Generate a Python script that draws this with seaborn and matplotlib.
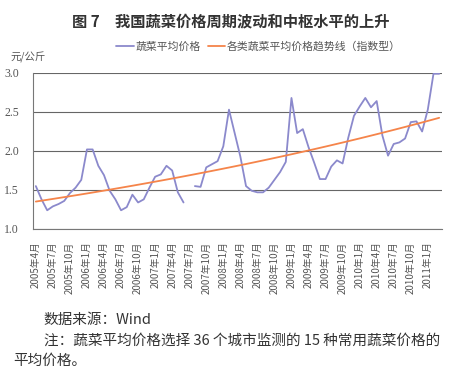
import numpy as np
import pandas as pd
import matplotlib
matplotlib.use("Agg")
import matplotlib.pyplot as plt
from matplotlib.lines import Line2D
import seaborn as sns

# monthly data, 2005-04 .. 2011-03
months = pd.period_range("2005-04", "2011-03", freq="M")
veg_price = [1.55, 1.38, 1.24, 1.29, 1.32, 1.36, 1.46, 1.53, 1.63, 2.02,
             2.02, 1.81, 1.69, 1.49, 1.38, 1.24, 1.28, 1.44, 1.34, 1.38,
             1.53, 1.67, 1.70, 1.81, 1.75, 1.47, 1.34, np.nan, 1.55, 1.54,
             1.79, 1.83, 1.87, 2.06, 2.53, 2.23, 1.93, 1.55, 1.49, 1.47,
             1.47, 1.53, 1.63, 1.73, 1.86, 2.68, 2.23, 2.28, 2.05, 1.85,
             1.64, 1.64, 1.80, 1.88, 1.84, 2.17, 2.45, 2.57, 2.68, 2.56,
             2.64, 2.20, 1.94, 2.09, 2.11, 2.16, 2.37, 2.38, 2.25, 2.53,
             2.99, 2.99]
tick_labels = [f"{p.year}年{p.month}月" for p in months[::3]]

df = pd.DataFrame({"idx": np.arange(len(months)), "price": veg_price})
df["seg"] = df["price"].isna().cumsum()

# exponential trend line (like the Excel trendline)
ok = df["price"].notna()
b, a = np.polyfit(df.loc[ok, "idx"], np.log(df.loc[ok, "price"]), 1)
df["trend"] = np.exp(a + b * df["idx"])

sns.set_style("white")
plt.rcParams["font.family"] = ["Noto Sans CJK SC", "DejaVu Sans"]

blue = "#8b89cc"
orange = "#f5844a"
grey = "#555555"

fig = plt.figure(figsize=(4.66, 3.77), dpi=100)
ax = fig.add_axes([0.0708, 0.3926, 0.8777, 0.4138])

sns.lineplot(data=df.dropna(), x="idx", y="price", units="seg", estimator=None,
             color=blue, lw=1.3, ax=ax)
sns.lineplot(data=df, x="idx", y="trend", color=orange, lw=1.3, ax=ax)

ax.set_xlim(-0.5, len(months) - 0.5)
ax.set_ylim(1.0, 3.0)
ax.set_yticks([1.0, 1.5, 2.0, 2.5, 3.0])
ax.set_yticklabels(["1.0", "1.5", "2.0", "2.5", "3.0"], family="Liberation Serif",
                   fontsize=8.5, color=grey)
ax.yaxis.grid(True, color="#666666", lw=0.8)
ax.set_axisbelow(True)

ax.set_xticks(np.arange(0, len(months), 3))
ax.set_xticklabels(tick_labels, rotation=90, fontsize=7, color=grey, va="top")
ax.set_xticks(np.arange(-0.5, len(months), 3), minor=True)
ax.tick_params(axis="x", which="major", length=0, pad=9)
ax.tick_params(axis="x", which="minor", direction="in", length=3, color="#777777")
ax.tick_params(axis="y", length=0, pad=10)
ax.set_xlabel("")
ax.set_ylabel("")
for s in ["top", "right"]:
    ax.spines[s].set_visible(False)
for s in ["left", "bottom"]:
    ax.spines[s].set_color("#777777")
    ax.spines[s].set_linewidth(0.8)

fig.text(0.496, 0.943, "图 7　我国蔬菜价格周期波动和中枢水平的上升",
         ha="center", va="center", fontsize=11, fontweight="bold", color="#333333")

handles = [Line2D([], [], color=blue, lw=1.3), Line2D([], [], color=orange, lw=1.3)]
fig.legend(handles, ["蔬菜平均价格", "各类蔬菜平均价格趋势线（指数型）"],
           loc="center", bbox_to_anchor=(0.555, 0.876), ncol=2, frameon=False,
           fontsize=7.8, handlelength=1.6, handletextpad=0.2, columnspacing=0.6,
           labelcolor=grey)
fig.text(0.022, 0.849, "元/公斤", ha="left", va="center", fontsize=7.5, color=grey)

fig.text(0.094, 0.151, "数据来源：Wind", ha="left", va="center", fontsize=10.5, color="#333333")
fig.text(0.094, 0.096, "注：蔬菜平均价格选择 36 个城市监测的 15 种常用蔬菜价格的",
         ha="left", va="center", fontsize=10.5, color="#333333")
fig.text(0.028, 0.042, "平均价格。", ha="left", va="center", fontsize=10.5, color="#333333")

fig.savefig("out.png", dpi=100)
